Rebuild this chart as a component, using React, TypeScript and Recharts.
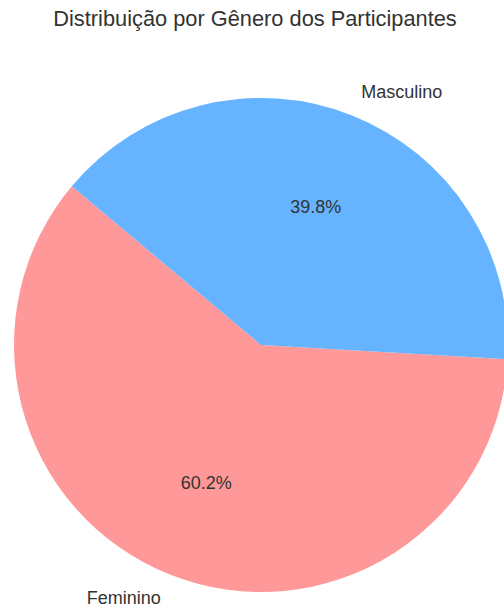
import React from "react";
import { PieChart, Pie, Cell } from "recharts";

const categories = ["Feminino", "Masculino"];
const values = [60.2, 39.8];
const colors = ["#ff9999", "#66b3ff"];
const title = "Distribuição por Gênero dos Participantes";

const data = categories.map((name, i) => ({ name, value: values[i] }));

const FONT = "'Liberation Sans', Arial, sans-serif";
const RAD = Math.PI / 180;

const renderLabel = (props: any) => {
  const { cx, cy, midAngle, outerRadius, percent, name } = props;
  const cos = Math.cos(midAngle * RAD);
  const sin = Math.sin(midAngle * RAD);
  const lx = cx + outerRadius * 1.1 * cos;
  const ly = cy - outerRadius * 1.1 * sin;
  const px = cx + outerRadius * 0.6 * cos;
  const py = cy - outerRadius * 0.6 * sin;
  return (
    <g>
      <text
        x={lx}
        y={ly}
        textAnchor={cos >= 0 ? "start" : "end"}
        dominantBaseline="central"
        fill="#333333"
        fontSize={18}
        fontFamily={FONT}
      >
        {name}
      </text>
      <text
        x={px}
        y={py}
        textAnchor="middle"
        dominantBaseline="central"
        fill="#333333"
        fontSize={18}
        fontFamily={FONT}
      >
        {(percent * 100).toFixed(1) + "%"}
      </text>
    </g>
  );
};

export default function App() {
  return (
    <div
      style={{
        position: "absolute",
        left: 0,
        top: 0,
        width: 504,
        height: 610,
        background: "#ffffff",
        overflow: "hidden",
      }}
    >
      <div
        style={{
          position: "absolute",
          left: 3,
          top: 6,
          width: 504,
          textAlign: "center",
          fontFamily: FONT,
          fontSize: 21.8,
          color: "#333333",
          lineHeight: "26px",
        }}
      >
        {title}
      </div>
      <PieChart
        width={504}
        height={610}
        margin={{ top: 0, right: 0, bottom: 0, left: 0 }}
        style={{ position: "absolute", left: 0, top: 0 }}
      >
        <Pie
          data={data}
          dataKey="value"
          nameKey="name"
          cx={261}
          cy={345}
          outerRadius={247}
          startAngle={140}
          endAngle={500}
          stroke="none"
          labelLine={false}
          label={renderLabel}
          isAnimationActive={false}
        >
          {data.map((d, i) => (
            <Cell key={d.name} fill={colors[i]} />
          ))}
        </Pie>
      </PieChart>
    </div>
  );
}
